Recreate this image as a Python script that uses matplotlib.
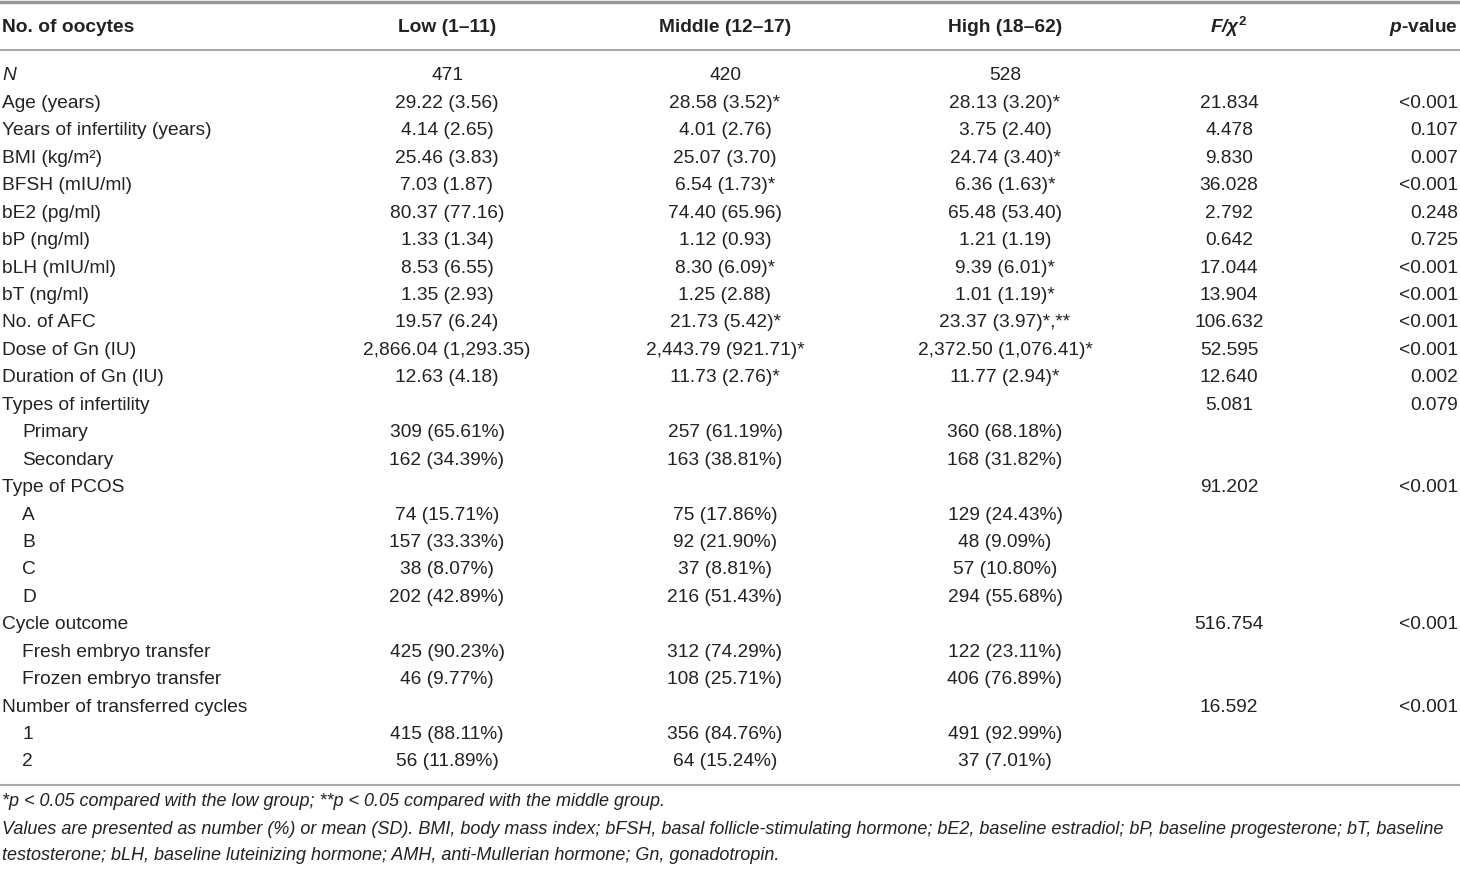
import matplotlib.pyplot as plt

plt.rcParams['font.family'] = ['Liberation Sans', 'DejaVu Sans']
plt.rcParams['mathtext.fontset'] = 'custom'
plt.rcParams['mathtext.rm'] = 'Liberation Sans'
plt.rcParams['mathtext.it'] = 'Liberation Sans:italic'
plt.rcParams['mathtext.bf'] = 'Liberation Sans:bold'
plt.rcParams['mathtext.bfit'] = 'Liberation Sans:bold:italic'

# Table content
headers = ['No. of oocytes', 'Low (1\u201311)', 'Middle (12\u201317)', 'High (18\u201362)',
           r'$\mathbfit{F/\chi}^\mathbf{2}$', r'$\mathbfit{p}$-value']

labels = ['N', 'Age (years)', 'Years of infertility (years)', 'BMI (kg/m\u00b2)', 'BFSH (mIU/ml)',
          'bE2 (pg/ml)', 'bP (ng/ml)', 'bLH (mIU/ml)', 'bT (ng/ml)', 'No. of AFC',
          'Dose of Gn (IU)', 'Duration of Gn (IU)', 'Types of infertility', 'Primary', 'Secondary',
          'Type of PCOS', 'A', 'B', 'C', 'D', 'Cycle outcome', 'Fresh embryo transfer',
          'Frozen embryo transfer', 'Number of transferred cycles', '1', '2']
indented = [False] * 13 + [True, True, False, True, True, True, True, False, True, True,
                           False, True, True]

low = ['471', '29.22 (3.56)', '4.14 (2.65)', '25.46 (3.83)', '7.03 (1.87)', '80.37 (77.16)',
       '1.33 (1.34)', '8.53 (6.55)', '1.35 (2.93)', '19.57 (6.24)', '2,866.04 (1,293.35)',
       '12.63 (4.18)', '', '309 (65.61%)', '162 (34.39%)', '', '74 (15.71%)', '157 (33.33%)',
       '38 (8.07%)', '202 (42.89%)', '', '425 (90.23%)', '46 (9.77%)', '', '415 (88.11%)',
       '56 (11.89%)']
middle = ['420', '28.58 (3.52)*', '4.01 (2.76)', '25.07 (3.70)', '6.54 (1.73)*', '74.40 (65.96)',
          '1.12 (0.93)', '8.30 (6.09)*', '1.25 (2.88)', '21.73 (5.42)*', '2,443.79 (921.71)*',
          '11.73 (2.76)*', '', '257 (61.19%)', '163 (38.81%)', '', '75 (17.86%)', '92 (21.90%)',
          '37 (8.81%)', '216 (51.43%)', '', '312 (74.29%)', '108 (25.71%)', '', '356 (84.76%)',
          '64 (15.24%)']
high = ['528', '28.13 (3.20)*', '3.75 (2.40)', '24.74 (3.40)*', '6.36 (1.63)*', '65.48 (53.40)',
        '1.21 (1.19)', '9.39 (6.01)*', '1.01 (1.19)*', '23.37 (3.97)*,**', '2,372.50 (1,076.41)*',
        '11.77 (2.94)*', '', '360 (68.18%)', '168 (31.82%)', '', '129 (24.43%)', '48 (9.09%)',
        '57 (10.80%)', '294 (55.68%)', '', '122 (23.11%)', '406 (76.89%)', '', '491 (92.99%)',
        '37 (7.01%)']
stat = ['', '21.834', '4.478', '9.830', '36.028', '2.792', '0.642', '17.044', '13.904', '106.632',
        '52.595', '12.640', '5.081', '', '', '91.202', '', '', '', '', '516.754', '', '', '16.592',
        '', '']
pval = ['', '<0.001', '0.107', '0.007', '<0.001', '0.248', '0.725', '<0.001', '<0.001', '<0.001',
        '<0.001', '0.002', '0.079', '', '', '<0.001', '', '', '', '', '<0.001', '', '', '<0.001',
        '', '']

footnotes = [
    '*p < 0.05 compared with the low group; **p < 0.05 compared with the middle group.',
    'Values are presented as number (%) or mean (SD). BMI, body mass index; bFSH, basal '
    'follicle-stimulating hormone; bE2, baseline estradiol; bP, baseline progesterone; bT, baseline',
    'testosterone; bLH, baseline luteinizing hormone; AMH, anti-Mullerian hormone; Gn, gonadotropin.',
]

W, H = 1460, 869
fig = plt.figure(figsize=(W / 100, H / 100), dpi=100)
ax = fig.add_axes([0, 0, 1, 1])
ax.set_xlim(0, W)
ax.set_ylim(H, 0)
ax.axis('off')

txt = '#222222'
fs = 13.8

# rules
ax.axhline(2, color='#999999', lw=2.5)
ax.axhline(50, color='#aaaaaa', lw=1.5)
ax.axhline(785, color='#aaaaaa', lw=1.5)

# header
hy = 27
ax.text(2, hy, headers[0], ha='left', va='center', fontsize=fs, weight='bold', color=txt)
for x, h in zip([447, 725, 1005], headers[1:4]):
    ax.text(x, hy, h, ha='center', va='center', fontsize=fs, weight='bold', color=txt)
ax.text(1229, hy, headers[4], ha='center', va='center', fontsize=fs, weight='bold', color=txt)
ax.text(1458, hy, headers[5], ha='right', va='center', fontsize=fs, weight='bold', color=txt)

# body
y0, dy = 76, 27.44
for i, lab in enumerate(labels):
    y = y0 + i * dy
    ax.text(22 if indented[i] else 2, y, lab, ha='left', va='center', fontsize=fs, color=txt,
            style='italic' if lab == 'N' else 'normal')
    for x, col in zip([447, 725, 1005, 1229], [low, middle, high, stat]):
        ax.text(x, y, col[i], ha='center', va='center', fontsize=fs, color=txt)
    ax.text(1458, y, pval[i], ha='right', va='center', fontsize=fs, color=txt)

for j, line in enumerate(footnotes):
    ax.text(2, 802 + j * 27, line, ha='left', va='center', fontsize=12.95, style='italic',
            color=txt)

fig.savefig('out.png', dpi=100)
